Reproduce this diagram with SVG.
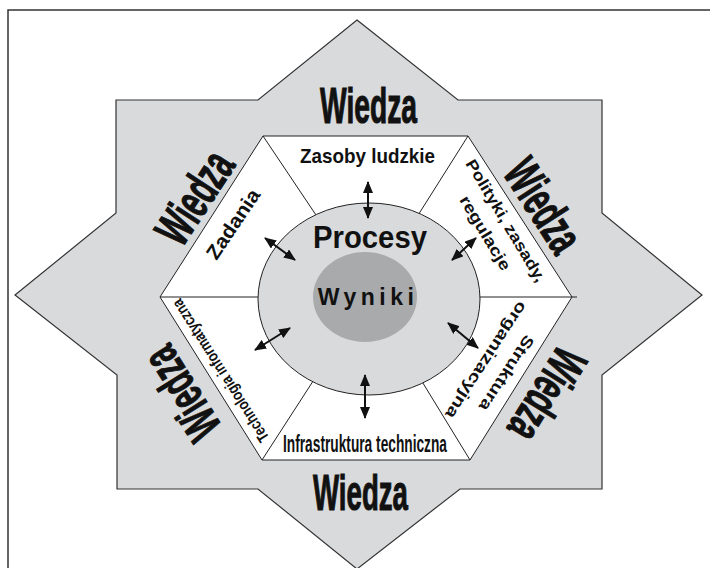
<svg xmlns="http://www.w3.org/2000/svg" width="710" height="568" viewBox="0 0 710 568">
  <style>
    .t { font-family: "Liberation Sans", Arial, sans-serif; font-weight: bold; fill: #111; text-anchor: middle; }
    .big { font-size: 50px; stroke: #111; stroke-width: 1.1; }
    .seg { fill: none; stroke: #222; stroke-width: 1; }
    .arr { stroke: #111; stroke-width: 2; marker-start: url(#ah); marker-end: url(#ah); }
  </style>
  <defs>
    <marker id="ah" viewBox="0 0 12 10" refX="11" refY="5" markerWidth="12" markerHeight="10" markerUnits="userSpaceOnUse" orient="auto-start-reverse">
      <path d="M0,0 L12,5 L0,10 Z" fill="#111"/>
    </marker>
  </defs>
  <rect width="710" height="568" fill="#fff"/>
  <path d="M8,568 V10 H710" fill="none" stroke="#333" stroke-width="1.5"/>

  <g id="star">
    <polygon points="357,20 458,100 602,100 602,213 702,295 602,375 602,489 460,489 357,569 258,489 117,489 117,375 15,295 116,213 116,100 258,100" fill="#d9dadb" stroke="#333" stroke-width="1.2"/>
  </g>

  <g id="hexagon">
    <polygon points="263,136 468,136 572,297 470,460 262,460 160,297" fill="#fff" stroke="#222" stroke-width="1"/>
    <line class="seg" x1="263" y1="136" x2="320" y2="221"/>
    <line class="seg" x1="468" y1="136" x2="415" y2="220"/>
    <line class="seg" x1="160" y1="297" x2="268" y2="297"/>
    <line class="seg" x1="470" y1="297" x2="577" y2="297"/>
    <line class="seg" x1="262" y1="460" x2="317" y2="375"/>
    <line class="seg" x1="470" y1="460" x2="418" y2="375"/>
  </g>

  <g id="procesy">
    <ellipse cx="369" cy="299" rx="111" ry="96" fill="#d9dadb" stroke="#222" stroke-width="1"/>
    <text class="t" x="370" y="248" font-size="32" textLength="114" lengthAdjust="spacingAndGlyphs">Procesy</text>
  </g>

  <g id="wyniki">
    <ellipse cx="365" cy="297" rx="52" ry="45" fill="#a9aaac"/>
    <text class="t" x="368" y="305" font-size="23" letter-spacing="4.5">Wyniki</text>
  </g>

  <g id="zasoby-ludzkie">
    <text class="t" x="367.5" y="163" font-size="21" textLength="135" lengthAdjust="spacingAndGlyphs">Zasoby ludzkie</text>
  </g>
  <g id="zadania">
    <text class="t" transform="translate(233,224) rotate(-56)" x="0" y="7" font-size="20" textLength="80" lengthAdjust="spacingAndGlyphs">Zadania</text>
  </g>
  <g id="polityki">
    <g transform="translate(496,226.5) rotate(59)">
      <text class="t" x="0" y="-6" font-size="16" textLength="140" lengthAdjust="spacingAndGlyphs">Polityki, zasady,</text>
      <text class="t" x="0" y="18" font-size="16" textLength="84" lengthAdjust="spacingAndGlyphs">regulacje</text>
    </g>
  </g>
  <g id="struktura">
    <g transform="translate(497,367) rotate(123)">
      <text class="t" x="0" y="-6" font-size="16" textLength="87" lengthAdjust="spacingAndGlyphs">Struktura</text>
      <text class="t" x="0" y="18" font-size="16" textLength="136" lengthAdjust="spacingAndGlyphs">organizacyjna</text>
    </g>
  </g>
  <g id="infrastruktura">
    <text class="t" x="365" y="452" font-size="23" textLength="164" lengthAdjust="spacingAndGlyphs">Infrastruktura techniczna</text>
  </g>
  <g id="technologia">
    <text class="t" transform="translate(220,371) rotate(-122.5)" x="0" y="6" font-size="16" textLength="166" lengthAdjust="spacingAndGlyphs">Technologia informatyczna</text>
  </g>

  <g id="wiedza">
    <text class="t big" x="368.5" y="123" textLength="97" lengthAdjust="spacingAndGlyphs">Wiedza</text>
    <text class="t big" x="360.5" y="510" textLength="95" lengthAdjust="spacingAndGlyphs">Wiedza</text>
    <text class="t big" transform="translate(194,197) rotate(-57)" x="0" y="18" textLength="100" lengthAdjust="spacingAndGlyphs">Wiedza</text>
    <text class="t big" transform="translate(544,205) rotate(57)" x="0" y="18" textLength="100" lengthAdjust="spacingAndGlyphs">Wiedza</text>
    <text class="t big" transform="translate(181,394) rotate(-122)" x="0" y="18" textLength="100" lengthAdjust="spacingAndGlyphs">Wiedza</text>
    <text class="t big" transform="translate(548,395) rotate(122)" x="0" y="18" textLength="100" lengthAdjust="spacingAndGlyphs">Wiedza</text>
  </g>

  <g id="connectors">
    <line class="arr" x1="368" y1="182" x2="368" y2="218"/>
    <line class="arr" x1="365" y1="375" x2="365" y2="418"/>
    <line class="arr" x1="265" y1="238" x2="295" y2="260"/>
    <line class="arr" x1="452" y1="260" x2="476" y2="238"/>
    <line class="arr" x1="255" y1="350" x2="290" y2="328"/>
    <line class="arr" x1="448" y1="323" x2="478" y2="348"/>
  </g>
</svg>
